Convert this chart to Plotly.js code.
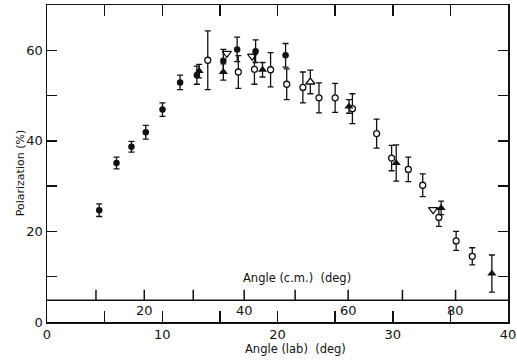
<!DOCTYPE html>
<html>
<head>
<meta charset="utf-8">
<script src="https://cdn.plot.ly/plotly-3.0.1.min.js"></script>
<style>html,body{margin:0;padding:0;background:#fff;}#chart{width:517px;height:362px;}</style>
</head>
<body>
<div id="chart"></div>
<script>
// Filled circles
const fcAngle = [4.53, 6.03, 7.33, 8.57, 10.02, 11.55, 13.0, 15.3, 16.5, 18.1, 20.7];
const fcPol   = [24.7, 35.1, 38.7, 41.9, 46.9, 52.9, 54.5, 57.7, 60.2, 59.8, 58.9];
const fcErr   = [1.4, 1.3, 1.2, 1.5, 1.5, 1.6, 2.0, 2.5, 2.7, 2.5, 2.6];
// Open circles
const ocAngle = [13.95, 16.6, 18.0, 19.4, 20.8, 22.2, 23.6, 25.0, 26.5, 28.6, 29.9, 31.35, 32.6, 34.0, 35.5, 36.9];
const ocPol   = [57.8, 55.2, 55.8, 55.7, 52.5, 51.8, 49.5, 49.5, 47.1, 41.6, 36.2, 33.7, 30.2, 23.1, 17.9, 14.5];
const ocErr   = [6.5, 3.6, 3.3, 3.8, 3.4, 3.4, 3.3, 3.2, 3.3, 3.2, 2.8, 2.7, 2.5, 2.0, 2.1, 1.9];
// Filled triangles
const ftAngle = [13.2, 15.3, 18.7, 26.2, 30.3, 34.2, 38.6];
const ftPol   = [55.4, 55.2, 55.7, 47.6, 35.1, 25.2, 10.7];
const ftErr   = [1.5, 1.8, 1.6, 1.5, 4.0, 1.5, 4.1];
// Open triangles (up)
const otAngle = [22.85];
const otPol   = [53.0];
const otErr   = [2.6];
// Open triangles (down)
const odAngle = [15.6, 17.8, 33.5];
const odPol   = [59.3, 58.7, 24.8];

// Axis ticks
const labTickVals = [0, 5, 10, 15, 20, 25, 30, 35, 40];
const labTickText = ['0', '', '10', '', '20', '', '30', '', '40'];
const polTickVals = [0, 10, 20, 30, 40, 50, 60];
const polTickText = ['0', '', '20', '', '40', '', '60'];
// c.m. angle ticks and their lab-angle positions
const cmTickText = ['', '20', '', '40', '', '60', '', '80'];
const cmTickLab  = [4.25, 8.44, 12.69, 17.11, 21.53, 26.13, 30.84, 35.45];
const cmAxisLevel = 4.8;   // polarization level where the c.m. axis is drawn
const cmTickTop = 7.1;     // top of the c.m. tick marks (polarization units)

const ink = '#111';
const eb = (arr) => ({type: 'data', array: arr, visible: true, color: ink, thickness: 1.3, width: 3});

const traces = [
  {x: ocAngle, y: ocPol, error_y: eb(ocErr), mode: 'markers', type: 'scatter',
   marker: {symbol: 'circle', size: 6, color: '#fff', line: {color: ink, width: 1.3}}},
  {x: fcAngle, y: fcPol, error_y: eb(fcErr), mode: 'markers', type: 'scatter',
   marker: {symbol: 'circle', size: 6.5, color: ink}},
  {x: otAngle, y: otPol, error_y: eb(otErr), mode: 'markers', type: 'scatter',
   marker: {symbol: 'triangle-up', size: 8, color: '#fff', line: {color: ink, width: 1.3}}},
  {x: odAngle, y: odPol, mode: 'markers', type: 'scatter',
   marker: {symbol: 'triangle-down', size: 8, color: 'rgba(255,255,255,0)', line: {color: ink, width: 1.2}}},
  {x: ftAngle, y: ftPol, error_y: eb(ftErr), mode: 'markers', type: 'scatter',
   marker: {symbol: 'triangle-up', size: 8, color: ink}}
];

const tickFont = {family: 'DejaVu Sans', size: 13, color: ink};

// c.m. axis: a line with upward ticks, labels below
const cmShapes = [{type: 'line', xref: 'paper', yref: 'y', x0: 0, x1: 1, y0: cmAxisLevel, y1: cmAxisLevel,
  line: {color: ink, width: 1.5}}].concat(cmTickLab.map(v => ({
  type: 'line', xref: 'x', yref: 'y', x0: v, x1: v, y0: cmAxisLevel, y1: cmTickTop,
  line: {color: ink, width: 1.5}
})));

const cmLabelAnnotations = cmTickLab.map((v, i) => ({
  text: cmTickText[i], xref: 'x', yref: 'y', x: v, y: cmAxisLevel - 2.2,
  xanchor: 'center', yanchor: 'middle', showarrow: false, font: tickFont
})).filter(a => a.text !== '');

const layout = {
  width: 517, height: 362,
  margin: {l: 47, r: 9, t: 5, b: 40},
  paper_bgcolor: '#fff', plot_bgcolor: '#fff',
  showlegend: false,
  xaxis: {
    range: [0, 40], showgrid: false, zeroline: false,
    showline: true, linecolor: ink, linewidth: 1.5, mirror: 'ticks',
    ticks: 'inside', ticklen: 11, tickwidth: 1.5, tickcolor: ink,
    tickmode: 'array', tickvals: labTickVals, ticktext: labTickText,
    tickfont: tickFont
  },
  yaxis: {
    range: [0, 70], showgrid: false, zeroline: false,
    showline: true, linecolor: ink, linewidth: 1.5, mirror: 'ticks',
    ticks: 'inside', ticklen: 10, tickwidth: 1.5, tickcolor: ink,
    tickmode: 'array', tickvals: polTickVals, ticktext: polTickText,
    tickfont: tickFont
  },
  shapes: cmShapes,
  annotations: [
    {text: 'Polarization (%)', xref: 'paper', yref: 'paper', x: -0.058, y: 0.47,
     xanchor: 'center', yanchor: 'middle', textangle: -90, showarrow: false,
     font: {family: 'DejaVu Sans', size: 11, color: ink}},
    {text: 'Angle (lab)  (deg)', xref: 'x', yref: 'paper', x: 21.6, y: -0.085,
     xanchor: 'center', yanchor: 'middle', showarrow: false,
     font: {family: 'DejaVu Sans', size: 11.5, color: ink}},
    {text: 'Angle (c.m.)  (deg)', xref: 'x', yref: 'y', x: 21.7, y: 9.7,
     xanchor: 'center', yanchor: 'middle', showarrow: false,
     font: {family: 'DejaVu Sans', size: 11.5, color: ink}}
  ].concat(cmLabelAnnotations)
};

Plotly.newPlot('chart', traces, layout, {staticPlot: true, displayModeBar: false});
</script>
</body>
</html>
